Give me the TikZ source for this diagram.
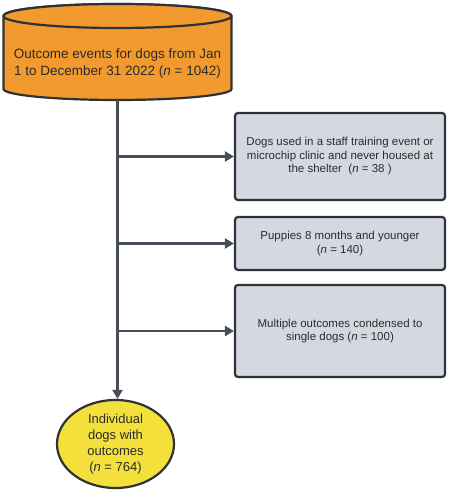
\documentclass[tikz,border=0pt]{standalone}
\usepackage{fontspec}
\setmainfont{Liberation Sans}
\usetikzlibrary{arrows.meta,shapes.geometric}
\definecolor{cylorange}{HTML}{F39A2F}
\definecolor{boxgray}{HTML}{D4D9E1}
\definecolor{ellyellow}{HTML}{F4E03B}
\definecolor{edgedark}{HTML}{2E3136}
\definecolor{linkcol}{HTML}{464C58}
\definecolor{txtcol}{HTML}{2B2B2B}
\tikzset{
  shapeedge/.style={draw=edgedark, line width=2.2pt},
  exclbox/.style={shapeedge, fill=boxgray, rounded corners=3pt, minimum width=210pt,
    align=center, text=txtcol, font=\fontsize{11.5}{13.5}\selectfont, inner sep=0pt},
  link/.style={draw=linkcol, line width=2.4pt, -{Triangle[length=9pt,width=10pt]}},
  trunk/.style={draw=linkcol, line width=2.4pt}
}
\begin{document}
\begin{tikzpicture}[x=1pt,y=1pt]
\useasboundingbox (0,0) rectangle (448,492);
% cylinder
\path[shapeedge, fill=cylorange] (3.5,476) -- (3.5,403)
  arc[start angle=180, end angle=360, x radius=114, y radius=11]
  -- (231.5,476)
  arc[start angle=0, end angle=180, x radius=114, y radius=12] -- cycle;
\path[shapeedge, fill=cylorange] (117.5,476) ellipse[x radius=114, y radius=12];
\node[align=center, text=txtcol, font=\fontsize{13.5}{17}\selectfont] (src) at (117.5,428.5)
  {Outcome events for dogs from Jan\\ 1 to December 31 2022 (\textit{n} = 1042)};
\coordinate (cylbot) at (117.5,392);
% exclusion boxes
\node[exclbox, minimum height=87pt] (b1) at (340,335.5)
  {Dogs used in a staff training event or\\microchip clinic and never housed at\\the shelter~~(\textit{n} = 38~)};
\node[exclbox, minimum height=53pt] (b2) at (340,248.5)
  {Puppies 8 months and younger\\(\textit{n} = 140)};
\node[exclbox, minimum height=92pt] (b3) at (340,161)
  {Multiple outcomes condensed to\\single dogs (\textit{n} = 100)};
% result ellipse
\node[ellipse, shapeedge, fill=ellyellow, minimum width=117pt, minimum height=88pt, inner sep=0pt,
  align=center, text=txtcol, font=\fontsize{13}{16}\selectfont] (ell) at (115.5,48)
  {Individual\\dogs with\\outcomes\\(\textit{n} = 764)};
% connectors
\draw[link] (cylbot) -- (cylbot |- ell.north);
\draw[link] (cylbot |- b1.west) -- (b1.west);
\draw[link] (cylbot |- b2.west) -- (b2.west);
\draw[link] (cylbot |- b3.west) -- (b3.west);
\end{tikzpicture}
\end{document}
